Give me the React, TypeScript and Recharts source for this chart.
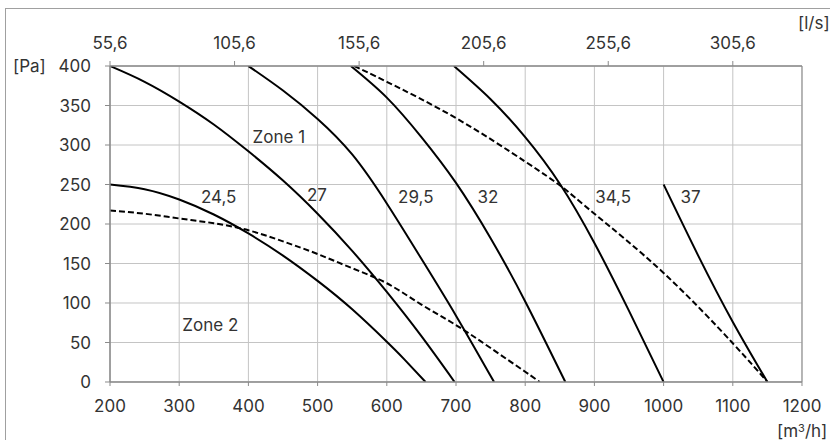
import React from 'react';
import { LineChart, Line, XAxis, YAxis, CartesianGrid, ReferenceDot } from 'recharts';

// Solid fan curves, [m3/h, Pa]
const curve245 = [
  { x: 200, y: 250 }, { x: 250, y: 244 }, { x: 300, y: 231 }, { x: 350, y: 212 },
  { x: 400, y: 188 }, { x: 450, y: 160 }, { x: 500, y: 128 }, { x: 550, y: 92 },
  { x: 600, y: 51 }, { x: 625, y: 29 }, { x: 656, y: 0 },
];
const curve27 = [
  { x: 200, y: 400 }, { x: 250, y: 380 }, { x: 300, y: 355 }, { x: 350, y: 326 },
  { x: 400, y: 292 }, { x: 450, y: 255 }, { x: 500, y: 213 }, { x: 550, y: 166 },
  { x: 600, y: 114 }, { x: 650, y: 58 }, { x: 698, y: 0 },
];
const curve295 = [
  { x: 400, y: 400 }, { x: 450, y: 369 }, { x: 500, y: 333 }, { x: 550, y: 288 },
  { x: 600, y: 226 }, { x: 650, y: 156 }, { x: 700, y: 84 }, { x: 755, y: 0 },
];
const curve32 = [
  { x: 548, y: 400 }, { x: 600, y: 360 }, { x: 650, y: 310 }, { x: 700, y: 252 },
  { x: 750, y: 182 }, { x: 800, y: 102 }, { x: 858, y: 0 },
];
const curve345 = [
  { x: 697, y: 400 }, { x: 750, y: 358 }, { x: 800, y: 310 }, { x: 850, y: 251 },
  { x: 900, y: 176 }, { x: 950, y: 90 }, { x: 1000, y: 0 },
];
const curve37 = [
  { x: 1000, y: 250 }, { x: 1050, y: 160 }, { x: 1100, y: 76 }, { x: 1150, y: 0 },
];

// Dashed zone borders
const zoneLower = [
  { x: 200, y: 217 }, { x: 250, y: 213 }, { x: 300, y: 207 }, { x: 350, y: 201 },
  { x: 400, y: 192 }, { x: 450, y: 178 }, { x: 500, y: 162 }, { x: 550, y: 144 },
  { x: 600, y: 125 }, { x: 650, y: 98 }, { x: 700, y: 72 }, { x: 750, y: 43 },
  { x: 800, y: 13 }, { x: 821, y: 0 },
];
const zoneUpper = [
  { x: 553, y: 400 }, { x: 600, y: 380 }, { x: 700, y: 334 }, { x: 800, y: 279 },
  { x: 853, y: 247 }, { x: 900, y: 213 }, { x: 1000, y: 138 }, { x: 1100, y: 49 },
  { x: 1150, y: 0 },
];

const solidCurves = [curve245, curve27, curve295, curve32, curve345, curve37];
const dashedCurves = [zoneLower, zoneUpper];

// Axis ticks
const xTicks = [200, 300, 400, 500, 600, 700, 800, 900, 1000, 1100, 1200];
const yTicks = [0, 50, 100, 150, 200, 250, 300, 350, 400];
const topTicks = [200, 380, 560, 740, 920, 1100];
const topTickLabels = ['55,6', '105,6', '155,6', '205,6', '255,6', '305,6'];
const xMinorTicks = Array.from({ length: 51 }, (_, i) => 200 + i * 20);
const yMinorTicks = Array.from({ length: 41 }, (_, i) => i * 10);
const topMinorTicks = Array.from({ length: 28 }, (_, i) => 200 + i * 36);

// Annotations placed in data coordinates
const curveLabels = [
  { x: 357, y: 234, text: '24,5' },
  { x: 499, y: 237, text: '27' },
  { x: 642, y: 234, text: '29,5' },
  { x: 746, y: 234, text: '32' },
  { x: 927, y: 234, text: '34,5' },
  { x: 1039, y: 234, text: '37' },
  { x: 444, y: 310, text: 'Zone 1' },
  { x: 345, y: 72, text: 'Zone 2' },
];

const FONT = 'Inter, "Noto Sans", sans-serif';
const TXT = '#333';
const AX = '#8a8a8a';
const T = 0.001;
const tickStyle = { fontSize: 17, fill: TXT, fontFamily: FONT };

export default function App() {
  return (
    <div style={{ position: 'absolute', left: 0, top: 0, width: 830, height: 440, background: '#fff', fontFamily: FONT, overflow: 'hidden' }}>
      <div style={{ position: 'absolute', left: 5, top: 8, width: 900, height: 500, borderLeft: '1px solid #a0a0a0', borderTop: '1px solid #a0a0a0' }} />
      <LineChart width={830} height={440} margin={{ top: 66, right: 28, bottom: 58, left: 110 }} style={{ position: 'absolute', left: 0, top: 0 }}>
        <CartesianGrid stroke="#c4c4c4" strokeWidth={1} />
        <XAxis xAxisId={0} dataKey="x" type="number" domain={[200, 1200]} ticks={xTicks} interval={0}
          height={T} tick={tickStyle} tickSize={4} tickMargin={14} stroke={AX} allowDataOverflow />
        <XAxis xAxisId="xminor" dataKey="x" type="number" domain={[200, 1200]} ticks={xMinorTicks} interval={0}
          height={T} mirror tick={false} tickSize={4} stroke={AX} allowDataOverflow />
        <XAxis xAxisId="top" dataKey="x" orientation="top" type="number" domain={[200, 1200]} ticks={topTicks} interval={0}
          height={T} tick={tickStyle} tickSize={5} tickMargin={12} stroke={AX} allowDataOverflow
          tickFormatter={(v: number) => topTickLabels[topTicks.indexOf(v)] ?? ''} />
        <XAxis xAxisId="topminor" dataKey="x" orientation="top" type="number" domain={[200, 1200]} ticks={topMinorTicks} interval={0}
          height={T} mirror tick={false} tickSize={4} stroke={AX} allowDataOverflow />
        <YAxis yAxisId={0} type="number" domain={[0, 400]} ticks={yTicks} interval={0}
          width={T} tick={tickStyle} tickSize={5} tickMargin={14} stroke={AX} allowDataOverflow />
        <YAxis yAxisId="yminor" type="number" domain={[0, 400]} ticks={yMinorTicks} interval={0}
          width={T} mirror tick={false} tickSize={4} stroke={AX} allowDataOverflow />
        <YAxis yAxisId="right" orientation="right" type="number" domain={[0, 400]} ticks={[0, 400]}
          width={T} tick={false} tickLine={false} stroke={AX} allowDataOverflow />
        {solidCurves.map((d, i) => (
          <Line key={'s' + i} data={d} dataKey="y" type="natural" stroke="#000" strokeWidth={2}
            dot={false} activeDot={false} isAnimationActive={false} />
        ))}
        {dashedCurves.map((d, i) => (
          <Line key={'d' + i} data={d} dataKey="y" type="natural" stroke="#000" strokeWidth={2}
            strokeDasharray="6 3" dot={false} activeDot={false} isAnimationActive={false} />
        ))}
        {curveLabels.map((l, i) => (
          <ReferenceDot key={'l' + i} x={l.x} y={l.y} r={0} fill="none" stroke="none"
            label={{ value: l.text, position: 'center', fill: TXT, fontSize: 17, fontFamily: FONT }} />
        ))}
      </LineChart>
      <div style={{ position: 'absolute', left: 13, top: 55, fontSize: 17, color: TXT, lineHeight: '22px' }}>[Pa]</div>
      <div style={{ position: 'absolute', left: 798, top: 12, fontSize: 17, color: TXT, lineHeight: '22px' }}>[l/s]</div>
      <div style={{ position: 'absolute', left: 777, top: 420, fontSize: 17, color: TXT, lineHeight: '22px', whiteSpace: 'nowrap' }}>
        [m<sup style={{ fontSize: 11, verticalAlign: 'top', position: 'relative', top: -3 }}>3</sup>/h]
      </div>
    </div>
  );
}
